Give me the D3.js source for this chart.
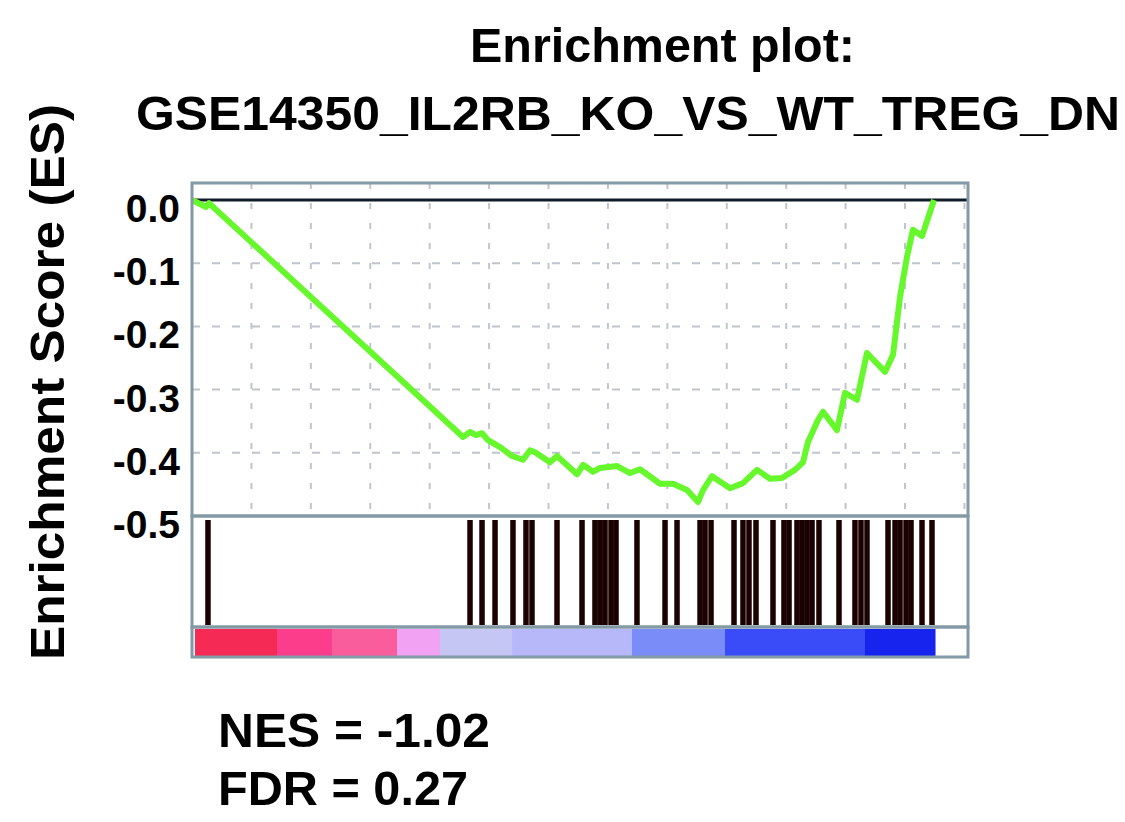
<!DOCTYPE html>
<html>
<head>
<meta charset="utf-8">
<script src="https://cdn.jsdelivr.net/npm/d3@7"></script>
<style>
  html, body { margin: 0; padding: 0; background: #fff; }
  svg text { font-family: "Liberation Sans", Arial, sans-serif; font-weight: bold; fill: #000; }
</style>
</head>
<body>
<svg id="chart"></svg>
<script>
// running enrichment score (gene rank, ES)
const esRanks = [0, 236, 286, 4561, 4679, 4780, 4881, 4982, 5184, 5386, 5571, 5689, 5773, 6025, 6143,
  6480, 6581, 6749, 6867, 7153, 7372, 7540, 7877, 8095, 8331, 8516, 8600, 8752, 9055, 9273, 9509,
  9728, 9930, 10148, 10283, 10367, 10535, 10620, 10855, 10990, 11192, 11360, 11663, 11798, 11916,
  12033, 12134, 12286, 12421, 12488];
const esValues = [0, -0.011, -0.005, -0.375, -0.367, -0.372, -0.369, -0.380, -0.391, -0.405, -0.411,
  -0.396, -0.399, -0.415, -0.405, -0.434, -0.419, -0.430, -0.424, -0.421, -0.432, -0.426, -0.449,
  -0.449, -0.459, -0.478, -0.459, -0.437, -0.456, -0.448, -0.427, -0.441, -0.440, -0.427, -0.415,
  -0.383, -0.348, -0.335, -0.364, -0.305, -0.316, -0.242, -0.272, -0.245, -0.153, -0.090, -0.047,
  -0.057, -0.019, 0];

// gene set members (rank positions of the hits)
const hitRanks = [269, 4679, 4881, 5100, 5402, 5621, 5722, 6143, 6564, 6782, 6867, 6951, 7052, 7136,
  7489, 7961, 8163, 8550, 8634, 8735, 9122, 9273, 9374, 9492, 9778, 9963, 10048, 10182, 10266, 10350,
  10435, 10552, 10889, 11158, 11259, 11360, 11714, 11832, 11916, 12017, 12101, 12286, 12454];

// ranked list metric colour bar
const barStarts = [50, 1431, 2356, 3450, 4174, 5386, 7405, 8970, 11326];
const barEnds = [1431, 2356, 3450, 4174, 5386, 7405, 8970, 11326, 12505];
const barColors = ["#f52a55", "#fb3d8c", "#f95d9c", "#f2a2f2", "#c6c6f4", "#b6b8fa", "#7a8cf8", "#3a4cf8", "#1624ee"];

const yTicks = [0, -0.1, -0.2, -0.3, -0.4, -0.5];
const xGrid = d3.range(1000, 13001, 1000);

const titleLines = ["Enrichment plot:", "GSE14350_IL2RB_KO_VS_WT_TREG_DN"];
const statLines = ["NES = -1.02", "FDR = 0.27"];

const width = 1125, height = 822;
const frame = { left: 192, right: 968, esTop: 183, esBottom: 516, hitBottom: 627, barBottom: 657 };

const svg = d3.select("#chart").attr("width", width).attr("height", height);

const x = d3.scaleLinear().domain([0, 13060]).range([frame.left, frame.right]);
const y = d3.scaleLinear().domain([-0.5, 0.027]).range([frame.esBottom, frame.esTop]);

// titles (condensed bold)
svg.append("text")
  .attr("x", 470).attr("y", 62)
  .attr("font-size", 49)
  .attr("textLength", 385).attr("lengthAdjust", "spacingAndGlyphs")
  .text(titleLines[0]);
svg.append("text")
  .attr("x", 136).attr("y", 130)
  .attr("font-size", 49)
  .attr("textLength", 984).attr("lengthAdjust", "spacingAndGlyphs")
  .text(titleLines[1]);

// y axis title
svg.append("text")
  .attr("transform", "translate(64, 660) rotate(-90)")
  .attr("font-size", 48)
  .attr("textLength", 556).attr("lengthAdjust", "spacingAndGlyphs")
  .text("Enrichment Score (ES)");

// grid
const grid = svg.append("g");
grid.selectAll(".vgrid")
  .data(xGrid)
  .join("line")
  .attr("class", "vgrid")
  .attr("x1", d => x(d)).attr("x2", d => x(d))
  .attr("y1", frame.esTop).attr("y2", frame.esBottom)
  .attr("stroke", "#c0c4cc").attr("stroke-width", 2)
  .attr("stroke-dasharray", "6,14");
grid.selectAll(".hgrid")
  .data(yTicks.filter(d => d < 0 && d > -0.5))
  .join("line")
  .attr("class", "hgrid")
  .attr("x1", frame.left).attr("x2", frame.right)
  .attr("y1", d => y(d)).attr("y2", d => y(d))
  .attr("stroke", "#c0c4cc").attr("stroke-width", 2)
  .attr("stroke-dasharray", "8,12");

// y axis tick labels (plain hyphen for the minus, like the original)
const yAxis = d3.axisLeft(y)
  .tickValues(yTicks)
  .tickFormat(d => d === 0 ? "0.0" : "-" + Math.abs(d).toFixed(1))
  .tickSize(0)
  .tickPadding(12);
const yAxisGroup = svg.append("g")
  .attr("transform", `translate(${frame.left}, 0)`)
  .call(yAxis);
yAxisGroup.select(".domain").remove();
yAxisGroup.selectAll("text")
  .attr("font-family", "Liberation Sans, Arial, sans-serif")
  .attr("font-weight", "bold")
  .attr("font-size", 39)
  .attr("fill", "#000")
  .attr("dy", "0.55em");

// zero line
svg.append("line")
  .attr("x1", frame.left).attr("x2", frame.right)
  .attr("y1", y(0)).attr("y2", y(0))
  .attr("stroke", "#101c28").attr("stroke-width", 3);

// running ES curve
const esData = esRanks.map((r, i) => ({ rank: r, es: esValues[i] }));
svg.append("path")
  .datum(esData)
  .attr("fill", "none")
  .attr("stroke", "#66f82c")
  .attr("stroke-width", 6)
  .attr("stroke-linejoin", "round")
  .attr("d", d3.line().x(d => x(d.rank)).y(d => y(d.es)));

// hits
svg.append("g").selectAll("line")
  .data(hitRanks)
  .join("line")
  .attr("x1", d => x(d)).attr("x2", d => x(d))
  .attr("y1", frame.esBottom + 4).attr("y2", frame.hitBottom - 2)
  .attr("stroke", "#1a0202").attr("stroke-width", 5.5);

// colour bar
svg.append("g").selectAll("rect")
  .data(barColors)
  .join("rect")
  .attr("x", (d, i) => x(barStarts[i]))
  .attr("width", (d, i) => x(barEnds[i]) - x(barStarts[i]) + 0.5)
  .attr("y", frame.hitBottom + 2)
  .attr("height", frame.barBottom - frame.hitBottom - 3)
  .attr("fill", d => d);

// panel frames
const frames = [[frame.esTop, frame.esBottom], [frame.esBottom, frame.hitBottom], [frame.hitBottom, frame.barBottom]];
svg.append("g").selectAll("rect")
  .data(frames)
  .join("rect")
  .attr("x", frame.left).attr("y", d => d[0])
  .attr("width", frame.right - frame.left)
  .attr("height", d => d[1] - d[0])
  .attr("fill", "none")
  .attr("stroke", "#8499a6").attr("stroke-width", 3);

// stats
svg.selectAll(".stat")
  .data(statLines)
  .join("text")
  .attr("class", "stat")
  .attr("x", 218)
  .attr("y", (d, i) => 747 + i * 58)
  .attr("font-size", 48)
  .attr("textLength", (d, i) => i === 0 ? 272 : 250)
  .attr("lengthAdjust", "spacingAndGlyphs")
  .text(d => d);
</script>
</body>
</html>
